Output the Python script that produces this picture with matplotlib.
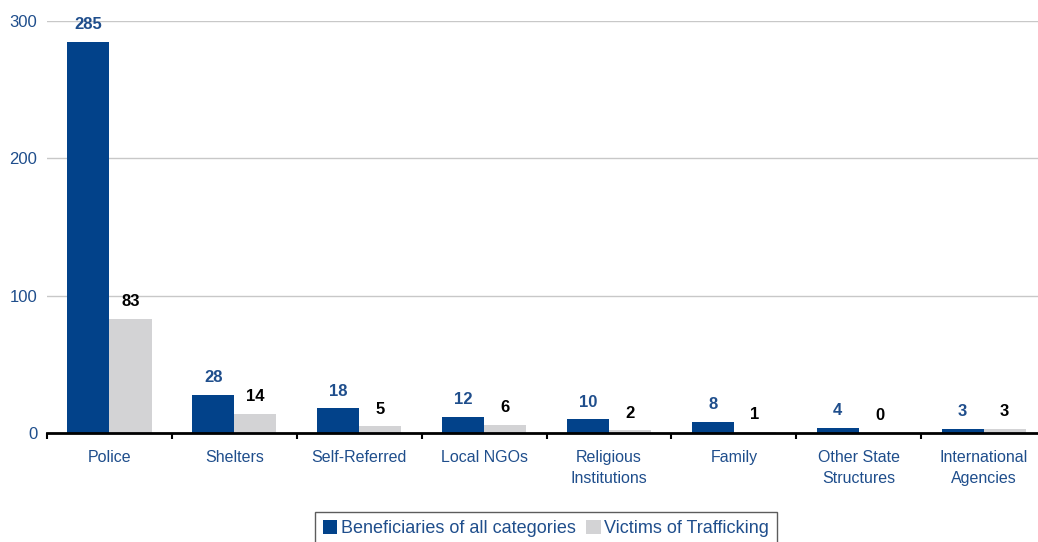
import numpy as np
import matplotlib.pyplot as plt

plt.rcParams['font.family'] = ['Liberation Sans', 'DejaVu Sans']

categories = ['Police', 'Shelters', 'Self-Referred', 'Local NGOs', 'Religious\nInstitutions',
              'Family', 'Other State\nStructures', 'International\nAgencies']
beneficiaries = [285, 28, 18, 12, 10, 8, 4, 3]
victims = [83, 14, 5, 6, 2, 1, 0, 3]

blue = '#02428a'
grey = '#d3d3d5'
txt = '#1f4e8c'

fig = plt.figure(figsize=(10.38, 5.42), dpi=100)
ax = fig.add_axes([0.0453, 0.201, 0.9625, 0.76])

x = np.arange(len(categories))
w = 0.337
ax.bar(x - w / 2, beneficiaries, w, color=blue, label='Beneficiaries of all categories', zorder=3)
ax.bar(x + w / 2, victims, w, color=grey, label='Victims of Trafficking', zorder=3)

# value labels above bars
for xi, v in zip(x, beneficiaries):
    ax.text(xi - w / 2, v + 7, str(v), ha='center', va='bottom', fontsize=12,
            fontweight='bold', color=txt)
for xi, v in zip(x, victims):
    ax.text(xi + w / 2, v + 7, str(v), ha='center', va='bottom', fontsize=12,
            fontweight='bold', color='black')

ax.set_xlim(-0.5, len(categories) - 0.5)
ax.set_ylim(0, 300)
ax.set_yticks([0, 100, 200, 300])
ax.tick_params(axis='y', length=0, pad=7, labelsize=12, labelcolor=txt)
ax.set_xticks(x)
ax.set_xticklabels(categories, fontsize=11.5, color=txt, linespacing=1.5)
ax.tick_params(axis='x', which='major', length=0, pad=12)
ax.set_xticks(np.arange(len(categories) + 1) - 0.5, minor=True)
ax.tick_params(axis='x', which='minor', length=4, width=1.5, direction='out', color='black')

ax.grid(axis='y', color='#c8c8c8', linewidth=1, zorder=0)
for s in ['top', 'right', 'left']:
    ax.spines[s].set_visible(False)
ax.spines['bottom'].set_linewidth(2)
ax.spines['bottom'].set_zorder(4)

leg = fig.legend(loc='upper center', bbox_to_anchor=(546 / 1038, 1 - 512 / 542), ncol=2,
                 fontsize=13, frameon=True, fancybox=False, handlelength=0.8,
                 handleheight=0.8, handletextpad=0.2, columnspacing=0.6,
                 borderpad=0.45, borderaxespad=0)
leg.get_frame().set_edgecolor('#333333')
leg.get_frame().set_linewidth(1)
for t in leg.get_texts():
    t.set_color(txt)

fig.savefig('out.png', dpi=100)
